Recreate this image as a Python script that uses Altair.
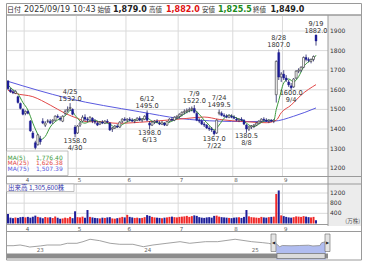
import altair as alt
import pandas as pd

# ------------------------------------------------------------------ data
dates = (["3/21", "3/24", "3/25", "3/26", "3/27", "3/28", "3/31"]
         + ["4/%d" % d for d in [1, 2, 3, 4, 7, 8, 9, 10, 11, 14, 15, 16, 17, 18, 21, 22, 23, 24, 25, 28, 30]]
         + ["5/%d" % d for d in [1, 2, 7, 8, 9, 12, 13, 14, 15, 16, 19, 20, 21, 22, 23, 26, 27, 28, 29, 30]]
         + ["6/%d" % d for d in [2, 3, 4, 5, 6, 9, 10, 11, 12, 13, 16, 17, 18, 19, 20, 23, 24, 25, 26, 27, 30]]
         + ["7/%d" % d for d in [1, 2, 3, 4, 7, 8, 9, 10, 11, 14, 15, 16, 17, 18, 22, 23, 24, 25, 28, 29, 30, 31]]
         + ["8/%d" % d for d in [1, 4, 5, 6, 7, 8, 12, 13, 14, 15, 18, 19, 20, 21, 22, 25, 26, 27, 28, 29]]
         + ["9/%d" % d for d in [1, 2, 3, 4, 5, 8, 9, 10, 11, 12, 16, 17, 18, 19]])

opens = ([1645, 1600, 1590, 1582, 1565, 1530, 1500]
         + [1480, 1490, 1440, 1380, 1330, 1320, 1350, 1440, 1420, 1440, 1440, 1440, 1445, 1465, 1455, 1440, 1480, 1495, 1505, 1500, 1410]
         + [1380, 1420, 1440, 1460, 1450, 1445, 1455, 1440, 1430, 1425, 1435, 1430, 1440, 1430, 1400, 1405, 1415, 1410, 1440, 1450]
         + [1445, 1450, 1445, 1440, 1445, 1455, 1445, 1450, 1480, 1430, 1420, 1435, 1440, 1430, 1425, 1430, 1420, 1440, 1450, 1445, 1460]
         + [1465, 1475, 1485, 1490, 1495, 1500, 1505, 1480, 1445, 1440, 1425, 1420, 1405, 1400, 1390, 1380, 1480, 1480, 1470, 1465, 1460, 1465]
         + [1460, 1450, 1445, 1450, 1445, 1420, 1400, 1410, 1415, 1420, 1430, 1440, 1450, 1445, 1440, 1445, 1440, 1575, 1790, 1665]
         + [1680, 1660, 1640, 1620, 1615, 1660, 1695, 1700, 1715, 1765, 1755, 1745, 1755, 1879])
highs = ([1650, 1610, 1600, 1598, 1570, 1535, 1505]
         + [1495, 1495, 1446, 1390, 1340, 1375, 1365, 1455, 1440, 1450, 1450, 1450, 1470, 1475, 1465, 1470, 1500, 1515, 1532, 1505, 1420]
         + [1420, 1440, 1470, 1475, 1460, 1465, 1460, 1450, 1440, 1440, 1445, 1445, 1450, 1435, 1410, 1420, 1425, 1440, 1455, 1460]
         + [1455, 1460, 1455, 1450, 1460, 1465, 1455, 1470, 1495, 1440, 1440, 1445, 1450, 1440, 1440, 1435, 1440, 1455, 1460, 1465, 1470]
         + [1480, 1490, 1500, 1505, 1510, 1515, 1522, 1490, 1455, 1450, 1435, 1425, 1415, 1410, 1395, 1450, 1499.5, 1490, 1480, 1475, 1475, 1475]
         + [1470, 1460, 1455, 1460, 1450, 1425, 1415, 1420, 1425, 1435, 1445, 1455, 1460, 1455, 1450, 1450, 1450, 1750, 1807, 1690]
         + [1700, 1675, 1650, 1635, 1660, 1700, 1710, 1720, 1770, 1780, 1765, 1760, 1775, 1882])
lows = ([1600, 1585, 1578, 1578, 1530, 1500, 1470]
        + [1470, 1475, 1386, 1350, 1296, 1315, 1320, 1425, 1410, 1430, 1425, 1425, 1440, 1455, 1440, 1435, 1470, 1485, 1495, 1470, 1358]
        + [1375, 1410, 1435, 1440, 1435, 1440, 1430, 1425, 1415, 1420, 1425, 1425, 1430, 1390, 1385, 1400, 1405, 1405, 1430, 1440]
        + [1435, 1440, 1435, 1430, 1440, 1440, 1435, 1445, 1440, 1398, 1415, 1425, 1430, 1420, 1420, 1415, 1415, 1435, 1440, 1440, 1450]
        + [1455, 1465, 1475, 1480, 1485, 1490, 1480, 1440, 1430, 1420, 1410, 1400, 1390, 1385, 1367, 1375, 1470, 1465, 1460, 1455, 1455, 1455]
        + [1450, 1440, 1435, 1440, 1420, 1380.5, 1390, 1400, 1405, 1415, 1425, 1435, 1440, 1435, 1430, 1435, 1430, 1535, 1650, 1640]
        + [1650, 1640, 1615, 1600, 1610, 1655, 1685, 1690, 1710, 1745, 1740, 1735, 1745, 1825.5])
closes = ([1605, 1590, 1585, 1592, 1535, 1505, 1475]
          + [1490, 1480, 1390, 1355, 1305, 1370, 1335, 1430, 1430, 1440, 1430, 1445, 1465, 1460, 1450, 1465, 1490, 1500, 1510, 1475, 1375]
          + [1415, 1430, 1460, 1450, 1445, 1460, 1440, 1435, 1420, 1435, 1430, 1440, 1435, 1395, 1405, 1415, 1410, 1435, 1450, 1445]
          + [1450, 1445, 1440, 1445, 1455, 1445, 1450, 1465, 1445, 1420, 1435, 1440, 1435, 1425, 1435, 1420, 1438, 1450, 1445, 1460, 1465]
          + [1475, 1485, 1490, 1495, 1500, 1505, 1485, 1445, 1440, 1425, 1420, 1405, 1400, 1395, 1375, 1445, 1485, 1470, 1465, 1460, 1470, 1460]
          + [1455, 1445, 1450, 1445, 1425, 1400, 1410, 1415, 1420, 1430, 1440, 1450, 1445, 1440, 1445, 1440, 1445, 1745, 1665, 1680]
          + [1660, 1650, 1625, 1610, 1655, 1695, 1700, 1715, 1765, 1755, 1750, 1755, 1770, 1849])
volumes = ([370, 230, 210, 240, 220, 250, 260]
           + [240, 260, 230, 270, 310, 260, 240, 210, 260, 240, 250, 220, 280, 230, 190, 200, 230, 210, 260, 210, 480]
           + [250, 240, 270, 230, 530, 260, 240, 220, 210, 200, 230, 220, 240, 250, 200, 190, 210, 230, 260, 240]
           + [340, 260, 240, 220, 230, 210, 220, 250, 330, 300, 260, 240, 230, 220, 210, 230, 240, 260, 270, 250, 240]
           + [260, 270, 280, 300, 260, 290, 320, 300, 250, 230, 220, 240, 250, 230, 300, 310, 270, 250, 240, 230, 220, 210]
           + [230, 240, 250, 220, 260, 530, 280, 250, 240, 230, 220, 260, 240, 230, 250, 260, 270, 1160, 1300, 320]
           + [290, 260, 240, 230, 250, 280, 270, 260, 290, 270, 250, 240, 260, 131])

# moving averages (trading-day index, value)
ma5_i = [0, 2, 4, 6, 8, 9, 10, 11, 12, 13, 14, 15, 17, 20, 22, 24, 25, 26, 27, 28, 29, 31, 33, 35, 37, 39, 41, 43, 45, 47, 50, 53, 56, 58, 60, 63, 66, 69, 72, 75, 77, 79, 81, 83, 85, 87, 89, 91, 93, 95, 97, 99, 101, 103, 105, 107, 108, 109, 110, 111, 113, 115, 117, 119, 121, 122, 123, 124]
ma5_v = [1625, 1600, 1580, 1535, 1497, 1465, 1430, 1400, 1372, 1345, 1350, 1362, 1410, 1446, 1458, 1480, 1495, 1490, 1470, 1455, 1440, 1430, 1440, 1445, 1435, 1432, 1425, 1410, 1415, 1430, 1445, 1448, 1455, 1440, 1432, 1428, 1440, 1460, 1485, 1497, 1475, 1445, 1420, 1395, 1420, 1455, 1470, 1462, 1450, 1440, 1420, 1412, 1425, 1440, 1445, 1443, 1500, 1545, 1595, 1635, 1655, 1641, 1667, 1718, 1743, 1752, 1760, 1776.4]
ma25_i = [0, 3, 10, 17, 23, 28, 32, 37, 44, 56, 72, 79, 85, 96, 104, 108, 110, 114, 118, 124]
ma25_v = [1598, 1582, 1565, 1522, 1480, 1454, 1437, 1437, 1429, 1437, 1454, 1461, 1449, 1437, 1432, 1445, 1483, 1522, 1573, 1626.38]
ma75_i = [0, 24, 53, 69, 85, 95, 107, 115, 124]
ma75_v = [1643, 1557, 1488, 1454, 1440, 1438, 1440, 1465, 1507.39]

price_ticks = [1200, 1300, 1400, 1500, 1600, 1700, 1800, 1900]
vol_ticks = [400, 800, 1200]
month_names = ["4", "5", "6", "7", "8", "9"]
month_first = [7, 28, 48, 69, 91, 111]

ann_i = [25, 27, 56, 57, 75, 83, 85, 96, 109, 114, 124]
ann_kind = ["high", "low", "high", "low", "high", "low", "high", "low", "high", "low", "high"]
ann_val = [1532.0, 1358.0, 1495.0, 1398.0, 1522.0, 1367.0, 1499.5, 1380.5, 1807.0, 1600.0, 1882.0]

legend_names = ["MA(5)", "MA(25)", "MA(75)"]
legend_values = ["1,776.40", "1,626.38", "1,507.39"]
ma_colors = ["#3c9a3c", "#e24848", "#5a5ae0"]

header_tags = ["始値", "高値", "安値", "終値"]
header_values = ["1,879.0", "1,882.0", "1,825.5", "1,849.0"]
header_colors = ["#222222", "#e01010", "#1a8a1a", "#222222"]

# long-term navigator (months since Sep 2022, price)
nav_t = [0, 0.7, 1.5, 2.1, 2.6, 3.8, 4.6, 6.1, 6.9, 8.0, 8.7, 9.5, 10.6, 11.8, 12.9, 14.4, 15.6, 16.7, 18.3, 19.8, 20.9, 22.7, 24.1, 26.1, 28.0, 29.2, 29.9, 30.4, 30.8, 31.2, 31.5, 32.5, 33.5, 34.5, 35.0, 35.8, 36.0, 36.5]
nav_v = [1428, 1428, 1500, 1397, 1290, 1400, 1500, 1500, 1680, 1680, 1848, 2100, 1953, 1680, 1575, 1575, 1323, 1500, 1680, 1848, 1680, 1848, 1848, 2100, 1848, 1750, 1680, 1575, 1640, 1320, 1450, 1420, 1450, 1480, 1400, 1440, 1740, 1850]
nav_sel_start = 30.8
year_names = ["23", "24", "25"]
year_t = [3.8, 16.1, 28.4]

# ------------------------------------------------------------------ frames
df = pd.DataFrame({"i": list(range(len(dates))), "date": dates, "o": opens, "h": highs,
                   "l": lows, "c": closes, "v": volumes})
df["up"] = df["c"] >= df["o"]
df["x0"] = df["i"] - 0.4
df["x1"] = df["i"] + 0.4
df["zero"] = 0

XS = alt.Scale(domain=[0, 124], range=[8, 316], nice=False, zero=False)
PS = alt.Scale(domain=[1200, 1900], range=[168.2, 31], nice=False, zero=False)
VS = alt.Scale(domain=[0, 1200], range=[223.5, 193], nice=False, zero=False)
NXS = alt.Scale(domain=[0, 36.5], range=[7, 326], nice=False, zero=False)
NYS = alt.Scale(domain=[1000, 2200], range=[249.8, 238.3], nice=False, zero=False)

one = pd.DataFrame({"a": [0]})
NUM = "DejaVu Sans"
JP = "Noto Sans CJK JP"


def box(x, y, x2, y2, **kw):
    return alt.Chart(one).mark_rect(**kw).encode(
        x=alt.value(x), x2=alt.value(x2), y=alt.value(y), y2=alt.value(y2))


def hline(y, x, x2, color, w=1):
    return alt.Chart(one).mark_rule(color=color, strokeWidth=w).encode(
        x=alt.value(x), x2=alt.value(x2), y=alt.value(y))


def label(text, x, y, **kw):
    return alt.Chart(one).mark_text(text=text, **kw).encode(x=alt.value(x), y=alt.value(y))


layers = []
# backgrounds and frames
layers.append(box(328, 15, 362, 226, fill="#ececec"))
layers.append(box(6.5, 3.5, 361.5, 15, fill="#ffffff", stroke="#9a9a9a", strokeWidth=1))

# price grid
layers.append(alt.Chart(pd.DataFrame({"p": price_ticks})).mark_rule(color="#dadada").encode(
    y=alt.Y("p:Q", scale=PS, axis=None), x=alt.value(7), x2=alt.value(328)))
mdf = pd.DataFrame({"m": month_names, "g": [v - 0.5 for v in month_first]})
layers.append(alt.Chart(mdf).mark_rule(color="#dadada").encode(
    x=alt.X("g:Q", scale=XS, axis=None), y=alt.value(15), y2=alt.value(176)))
layers.append(alt.Chart(mdf).mark_rule(color="#dadada").encode(
    x=alt.X("g:Q", scale=XS, axis=None), y=alt.value(184), y2=alt.value(224)))
# volume grid
layers.append(alt.Chart(pd.DataFrame({"p": vol_ticks})).mark_rule(color="#dadada").encode(
    y=alt.Y("p:Q", scale=VS, axis=None), x=alt.value(7), x2=alt.value(328)))

# moving averages
for mi, mv, col in [(ma75_i, ma75_v, ma_colors[2]), (ma25_i, ma25_v, ma_colors[1]), (ma5_i, ma5_v, ma_colors[0])]:
    layers.append(alt.Chart(pd.DataFrame({"i": mi, "v": mv})).mark_line(
        color=col, strokeWidth=1, interpolate="monotone").encode(
        x=alt.X("i:Q", scale=XS, axis=None), y=alt.Y("v:Q", scale=PS, axis=None)))

# candles
base = alt.Chart(df)
layers.append(base.mark_rule(color="#222266", strokeWidth=0.8).encode(
    x=alt.X("i:Q", scale=XS, axis=None), y=alt.Y("l:Q", scale=PS, axis=None), y2="h:Q"))
layers.append(base.transform_filter("datum.up").mark_rect(fill="#ffffff", stroke="#333333", strokeWidth=0.6).encode(
    x=alt.X("x0:Q", scale=XS, axis=None), x2="x1:Q", y=alt.Y("o:Q", scale=PS, axis=None), y2="c:Q"))
layers.append(base.transform_filter("!datum.up").mark_rect(fill="#1c1c96", stroke="#1c1c96", strokeWidth=0.4).encode(
    x=alt.X("x0:Q", scale=XS, axis=None), x2="x1:Q", y=alt.Y("o:Q", scale=PS, axis=None), y2="c:Q"))

# volume
layers.append(base.mark_rect().encode(
    x=alt.X("x0:Q", scale=XS, axis=None), x2="x1:Q",
    y=alt.Y("v:Q", scale=VS, axis=None), y2="zero:Q",
    color=alt.condition("datum.up", alt.value("#f02828"), alt.value("#1e1e9a"))))

# annotations
adf = pd.DataFrame({"i": ann_i, "kind": ann_kind, "v": ann_val,
                    "d": [dates[k] for k in ann_i]})
adf["s"] = adf["v"].map(lambda z: "%.1f" % z)
for kind, field, dy in [("high", "d", -11), ("high", "s", -4), ("low", "s", 3.5), ("low", "d", 10.5)]:
    layers.append(alt.Chart(adf).transform_filter("datum.kind == '%s'" % kind).mark_text(
        font=NUM, fontSize=6.6, color="#333333", dy=dy, baseline="middle").encode(
        x=alt.X("i:Q", scale=XS, axis=None), y=alt.Y("v:Q", scale=PS, axis=None), text=field + ":N"))

# axis labels
layers.append(alt.Chart(pd.DataFrame({"p": price_ticks})).mark_text(
    font=NUM, fontSize=6, color="#333333", align="left", baseline="middle").encode(
    y=alt.Y("p:Q", scale=PS, axis=None), x=alt.value(330), text=alt.Text("p:Q", format="d")))
layers.append(alt.Chart(pd.DataFrame({"p": vol_ticks})).mark_text(
    font=NUM, fontSize=6, color="#333333", align="left", baseline="middle").encode(
    y=alt.Y("p:Q", scale=VS, axis=None), x=alt.value(330), text=alt.Text("p:Q", format="d")))
layers.append(label("(万株)", 360, 221, font=JP, fontSize=5.5, color="#555555", align="right", baseline="middle"))
for yy in [179.5, 228.5]:
    layers.append(alt.Chart(mdf).mark_text(font=NUM, fontSize=5.5, color="#555555", align="left",
                                           baseline="middle", dx=1.5).encode(
        x=alt.X("g:Q", scale=XS, axis=None), y=alt.value(yy), text="m:N"))

# panel separators
layers.append(hline(176.5, 7, 362, "#9a9a9a"))
layers.append(hline(184, 7, 362, "#9a9a9a"))
layers.append(hline(224.5, 7, 328, "#9a9a9a"))
layers.append(hline(231.5, 7, 362, "#9a9a9a"))
layers.append(alt.Chart(one).mark_rule(color="#9a9a9a").encode(
    x=alt.value(328), y=alt.value(15), y2=alt.value(226)))
layers.append(box(6.5, 15, 361.5, 260, fill=None, fillOpacity=0, stroke="#9a9a9a", strokeWidth=1))

# legend box
layers.append(box(6.5, 151, 68, 175.5, fill="#ffffff", fillOpacity=0.85, stroke="#b0b0b0", strokeWidth=0.8))
lgd = pd.DataFrame({"n": legend_names, "v": legend_values, "c": ma_colors, "r": [0, 1, 2]})
for field, xx in [("n", 7.5), ("v", 36)]:
    layers.append(alt.Chart(lgd).mark_text(font=NUM, fontSize=6, align="left", baseline="middle").encode(
        x=alt.value(xx), y=alt.Y("r:O", scale=alt.Scale(domain=[0, 1, 2], range=[155, 171.5]), axis=None),
        text=field + ":N", color=alt.Color("c:N", scale=None)))

# volume caption
layers.append(box(6.5, 184, 74, 191.5, fill="#ffffff", stroke="#b0b0b0", strokeWidth=0.8))
layers.append(label("出来高  1,305,600株", 8, 188, font=JP, fontSize=6.5, color="#3333aa", align="left", baseline="middle"))

# header
layers.append(label("日付", 7, 9.8, font=JP, fontSize=7, color="#333333", align="left", baseline="middle"))
layers.append(label("2025/09/19 10:43", 24, 9.8, font=NUM, fontSize=8, color="#333333", align="left", baseline="middle"))
for tag, val, col, tx, vx in zip(header_tags, header_values, header_colors, [97.5, 149, 202, 253], [113, 166, 218, 270.5]):
    layers.append(label(tag, tx, 10.2, font=JP, fontSize=6.5, color="#333333", align="left", baseline="middle"))
    layers.append(label(val, vx, 9.8, font=NUM, fontSize=8, fontWeight="bold", color=col, align="left", baseline="middle"))

# navigator
ndf = pd.DataFrame({"t": nav_t, "v": nav_v})
layers.append(alt.Chart(ndf).transform_filter("datum.t >= %f" % nav_sel_start).mark_area(
    color="#a9b6ee", opacity=0.9).encode(
    x=alt.X("t:Q", scale=NXS, axis=None), y=alt.Y("v:Q", scale=NYS, axis=None), y2=alt.value(253)))
layers.append(alt.Chart(ndf).mark_line(color="#8a8a8a", strokeWidth=0.8).encode(
    x=alt.X("t:Q", scale=NXS, axis=None), y=alt.Y("v:Q", scale=NYS, axis=None)))
layers.append(alt.Chart(pd.DataFrame({"t": year_t, "n": year_names})).mark_text(
    font=NUM, fontSize=5.5, color="#666666", baseline="middle").encode(
    x=alt.X("t:Q", scale=NXS, axis=None), y=alt.value(249.5), text="n:N"))
layers.append(box(7, 253.5, 328, 258.5, fill="#8c8c8c"))
layers.append(box(277, 253.5, 325, 258.5, fill="#dcdcdc", stroke="#666666", strokeWidth=0.6))
for hx0, glyph in [(271, "◀"), (325, "▶")]:
    layers.append(box(hx0, 234, hx0 + 5, 251.5, fill="#e4e4e4", stroke="#666666", strokeWidth=0.6))
    layers.append(label(glyph, hx0 + 2.5, 242.5, font=NUM, fontSize=4, color="#222222", baseline="middle"))

chart = alt.layer(*layers).resolve_scale(x="independent", y="independent", color="independent").properties(
    width=370, height=266, padding=0, autosize=alt.AutoSizeParams(type="none"),
    background="#ffffff").configure_view(stroke=None)

chart.save("out.html", embed_options={"renderer": "svg", "actions": False})
